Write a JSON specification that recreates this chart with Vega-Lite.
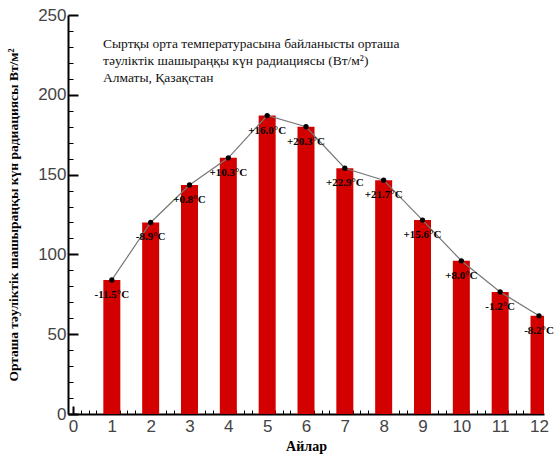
{
  "$schema": "https://vega.github.io/schema/vega-lite/v6.json",
  "width": 476,
  "height": 399,
  "autosize": {"type": "none"},
  "padding": {"left": 68, "top": 15, "right": 16, "bottom": 48},
  "background": "white",
  "title": {
    "text": ["Сыртқы орта температурасына байланысты орташа", "тәуліктік шашыраңқы күн радиациясы (Вт/м²)", "Алматы, Қазақстан"],
    "anchor": "start",
    "frame": "group",
    "orient": "top",
    "baseline": "top",
    "dx": 35,
    "dy": 78,
    "font": "Liberation Serif",
    "fontSize": 13.5,
    "fontWeight": "normal",
    "color": "#111",
    "lineHeight": 17,
    "offset": 0
  },
  "config": {
    "view": {"stroke": null},
    "axis": {"grid": false}
  },
  "data": {
    "values": [
      {"month": 1, "rad": 84, "temp": "-11.5°C"},
      {"month": 2, "rad": 120, "temp": "-8.9°C"},
      {"month": 3, "rad": 143.5, "temp": "+0.8°C"},
      {"month": 4, "rad": 160.5, "temp": "+10.3°C"},
      {"month": 5, "rad": 187, "temp": "+16.0°C"},
      {"month": 6, "rad": 180, "temp": "+20.3°C"},
      {"month": 7, "rad": 154, "temp": "+22.9°C"},
      {"month": 8, "rad": 146.5, "temp": "+21.7°C"},
      {"month": 9, "rad": 121.5, "temp": "+15.6°C"},
      {"month": 10, "rad": 96, "temp": "+8.0°C"},
      {"month": 11, "rad": 76.5, "temp": "-1.2°C"},
      {"month": 12, "rad": 61.5, "temp": "-8.2°C"}
    ]
  },
  "resolve": {"axis": {"x": "independent", "y": "independent"}},
  "layer": [
    {
      "mark": {"type": "bar", "width": 17, "color": "#d30000", "clip": true},
      "encoding": {
        "x": {
          "field": "month", "type": "quantitative",
          "scale": {"domain": [0, 12], "nice": false, "zero": true},
          "axis": {
            "orient": "bottom",
            "values": [0,1,2,3,4,5,6,7,8,9,10,11,12],
            "format": "d",
            "title": "Айлар",
            "titleFont": "Liberation Serif", "titleFontSize": 14, "titleFontWeight": "bold", "titleColor": "#000",
            "titlePadding": 5,
            "labelFont": "Liberation Sans", "labelFontSize": 17, "labelColor": "#444",
            "labelPadding": 12,
            "labelFlush": false,
            "tickSize": -8, "tickWidth": 2, "tickColor": "#000",
            "domainColor": "#000", "domainWidth": 2
          }
        },
        "y": {
          "field": "rad", "type": "quantitative",
          "scale": {"domain": [0, 250], "nice": false},
          "axis": {
            "orient": "left",
            "values": [0, 50, 100, 150, 200, 250],
            "title": "Орташа тәуліктік шашыраңқы күн радиациясы Вт/м²",
            "titleFont": "Liberation Serif", "titleFontSize": 13.5, "titleFontWeight": "bold", "titleColor": "#000",
            "titlePadding": 17,
            "labelFont": "Liberation Sans", "labelFontSize": 17, "labelColor": "#444",
            "labelPadding": 12,
            "labelFlush": false,
            "tickSize": -10, "tickWidth": 2, "tickColor": "#000",
            "domainColor": "#000", "domainWidth": 2
          }
        }
      }
    },
    {
      "mark": {"type": "line", "color": "#777", "strokeWidth": 1.2},
      "encoding": {
        "x": {
          "field": "month", "type": "quantitative",
          "axis": {
            "orient": "bottom",
            "values": [0.2,0.4,0.6,0.8,1.2,1.4,1.6,1.8,2.2,2.4,2.6,2.8,3.2,3.4,3.6,3.8,4.2,4.4,4.6,4.8,5.2,5.4,5.6,5.8,6.2,6.4,6.6,6.8,7.2,7.4,7.6,7.8,8.2,8.4,8.6,8.8,9.2,9.4,9.6,9.8,10.2,10.4,10.6,10.8,11.2,11.4,11.6,11.8],
            "title": null, "labels": false, "domain": false,
            "tickSize": -4, "tickWidth": 1, "tickColor": "#000"
          }
        },
        "y": {
          "field": "rad", "type": "quantitative",
          "axis": {
            "orient": "left",
            "values": [10,20,30,40,60,70,80,90,110,120,130,140,160,170,180,190,210,220,230,240],
            "title": null, "labels": false, "domain": false,
            "tickSize": -5, "tickWidth": 1, "tickColor": "#000"
          }
        }
      }
    },
    {
      "mark": {"type": "point", "filled": true, "color": "#000", "size": 28, "opacity": 1},
      "encoding": {
        "x": {"field": "month", "type": "quantitative", "axis": null},
        "y": {"field": "rad", "type": "quantitative", "axis": null}
      }
    },
    {
      "mark": {"type": "text", "dy": 15, "font": "Liberation Serif", "fontSize": 11, "fontWeight": "bold", "color": "#000"},
      "encoding": {
        "x": {"field": "month", "type": "quantitative", "axis": null},
        "y": {"field": "rad", "type": "quantitative", "axis": null},
        "text": {"field": "temp"}
      }
    }
  ]
}
